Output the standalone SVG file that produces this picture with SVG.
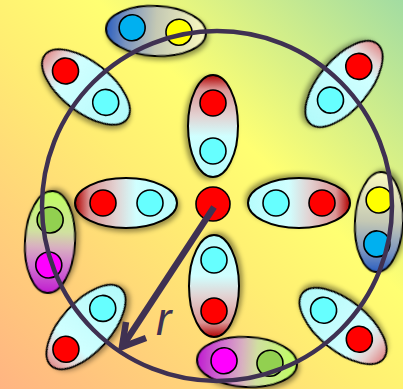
<svg xmlns="http://www.w3.org/2000/svg" width="403" height="389" viewBox="0 0 403 389">
<defs>
<linearGradient id="bg" x1="0" y1="1" x2="1" y2="0">
<stop offset="0" stop-color="#FFB482"/>
<stop offset="0.45" stop-color="#FFEE72"/>
<stop offset="0.62" stop-color="#FFFF72"/>
<stop offset="1" stop-color="#A2DCA2"/>
</linearGradient>
<linearGradient id="rc" x1="0" y1="0" x2="1" y2="0">
<stop offset="0" stop-color="#B00000"/>
<stop offset="0.14" stop-color="#DC9494"/>
<stop offset="0.4" stop-color="#E2D2D2"/>
<stop offset="0.6" stop-color="#D0FFFF"/>
<stop offset="1" stop-color="#B6FCFC"/>
</linearGradient>
<linearGradient id="rcd" x1="0" y1="0" x2="1" y2="0">
<stop offset="0" stop-color="#E08C8C"/>
<stop offset="0.14" stop-color="#E6D2D2"/>
<stop offset="0.3" stop-color="#D0FFFF"/>
<stop offset="1" stop-color="#B2FAFA"/>
</linearGradient>
<linearGradient id="by" x1="0" y1="0" x2="1" y2="0">
<stop offset="0" stop-color="#2A5EC0"/>
<stop offset="0.2" stop-color="#7A94C0"/>
<stop offset="0.5" stop-color="#C4C8B4"/>
<stop offset="1" stop-color="#FAFAC0"/>
</linearGradient>
<linearGradient id="mg" x1="0" y1="0" x2="1" y2="0">
<stop offset="0" stop-color="#C01CD0"/>
<stop offset="0.25" stop-color="#D070D0"/>
<stop offset="0.45" stop-color="#D8B0C0"/>
<stop offset="0.6" stop-color="#D0E0A0"/>
<stop offset="1" stop-color="#BEFF5E"/>
</linearGradient>
<filter id="sh" x="-30%" y="-30%" width="160%" height="160%">
<feDropShadow dx="2" dy="3" stdDeviation="2.5" flood-color="#000" flood-opacity="0.4"/>
</filter>
</defs>
<style>
.el{stroke:#000;stroke-width:2}
.d{stroke:#000;stroke-width:1.6}
.r{fill:#FF0000}.c{fill:#66FFFF}.b{fill:#00B0F0}.y{fill:#FFFF00}.m{fill:#FF00FF}.g{fill:#92D050}
.ring{fill:none;stroke:#3F3152;stroke-width:4.5}
.arr{fill:none;stroke:#3F3152;stroke-width:6.5;stroke-linecap:butt;stroke-linejoin:miter}
.lbl{font-family:"Liberation Sans",Arial,sans-serif;font-style:italic;font-size:46px;fill:#3F3152}
</style>
<rect width="403" height="389" fill="url(#bg)"/>

<g id="n-top-center" transform="translate(213,126) rotate(90)">
<ellipse class="el" rx="51" ry="25" fill="url(#rc)" filter="url(#sh)"/>
<circle class="d r" cx="-23" cy="0" r="13"/><circle class="d c" cx="25" cy="0" r="13"/>
</g>
<g id="n-bottom-center" transform="translate(214,286) rotate(-90)">
<ellipse class="el" rx="51" ry="25" fill="url(#rc)" filter="url(#sh)"/>
<circle class="d r" cx="-25" cy="0" r="13"/><circle class="d c" cx="26" cy="0" r="13"/>
</g>
<g id="n-left" transform="translate(126,203)">
<ellipse class="el" rx="51" ry="25" fill="url(#rc)" filter="url(#sh)"/>
<circle class="d r" cx="-23" cy="0" r="13"/><circle class="d c" cx="24" cy="0" r="13"/>
</g>
<g id="n-right" transform="translate(299,203) rotate(180)">
<ellipse class="el" rx="51" ry="25" fill="url(#rc)" filter="url(#sh)"/>
<circle class="d r" cx="-23" cy="0" r="13"/><circle class="d c" cx="23" cy="0" r="13"/>
</g>
<g id="n-upper-left" transform="translate(86,87) rotate(38)">
<ellipse class="el" rx="52" ry="25" fill="url(#rcd)" filter="url(#sh)"/>
<circle class="d r" cx="-26" cy="0" r="13"/><circle class="d c" cx="25" cy="0" r="13"/>
</g>
<g id="n-upper-right" transform="translate(344,84) rotate(130)">
<ellipse class="el" rx="52" ry="25" fill="url(#rcd)" filter="url(#sh)"/>
<circle class="d r" cx="-23" cy="0" r="13"/><circle class="d c" cx="21" cy="0" r="13"/>
</g>
<g id="n-lower-left" transform="translate(86,327) rotate(-48)">
<ellipse class="el" rx="52" ry="25" fill="url(#rcd)" filter="url(#sh)"/>
<circle class="d r" cx="-30" cy="0" r="13"/><circle class="d c" cx="25" cy="0" r="13"/>
</g>
<g id="n-lower-right" transform="translate(343,326) rotate(-141)">
<ellipse class="el" rx="52" ry="25" fill="url(#rcd)" filter="url(#sh)"/>
<circle class="d r" cx="-21" cy="0" r="13"/><circle class="d c" cx="25" cy="0" r="13"/>
</g>
<g id="n-top" transform="translate(156,31) rotate(3)">
<ellipse class="el" rx="50" ry="25" fill="url(#by)" filter="url(#sh)"/>
<circle class="d b" cx="-24" cy="-2" r="13"/><circle class="d y" cx="23" cy="0" r="13"/>
</g>
<g id="n-right-vertical" transform="translate(379,222) rotate(-87)">
<ellipse class="el" rx="50" ry="24" fill="url(#by)" filter="url(#sh)"/>
<circle class="d b" cx="-22" cy="-1" r="13"/><circle class="d y" cx="22" cy="-1" r="13"/>
</g>
<g id="n-bottom" transform="translate(247,362) rotate(3)">
<ellipse class="el" rx="50" ry="25" fill="url(#mg)" filter="url(#sh)"/>
<circle class="d m" cx="-23" cy="0" r="13"/><circle class="d g" cx="23" cy="0" r="13"/>
</g>
<g id="n-left-vertical" transform="translate(50,242) rotate(-87)">
<ellipse class="el" rx="51" ry="25" fill="url(#mg)" filter="url(#sh)"/>
<circle class="d m" cx="-23" cy="0" r="13"/><circle class="d g" cx="22" cy="-1" r="13"/>
</g>
<g id="n-center">
<circle class="d r" cx="213" cy="204" r="17"/>
</g>

<g id="connectors">
<circle class="ring" cx="217" cy="206" r="175"/>
<line class="arr" x1="214" y1="207" x2="124" y2="344"/>
<polyline class="arr" points="126,322 122,347 146,338"/>
<text class="lbl" x="156" y="335">r</text>
</g>
</svg>
